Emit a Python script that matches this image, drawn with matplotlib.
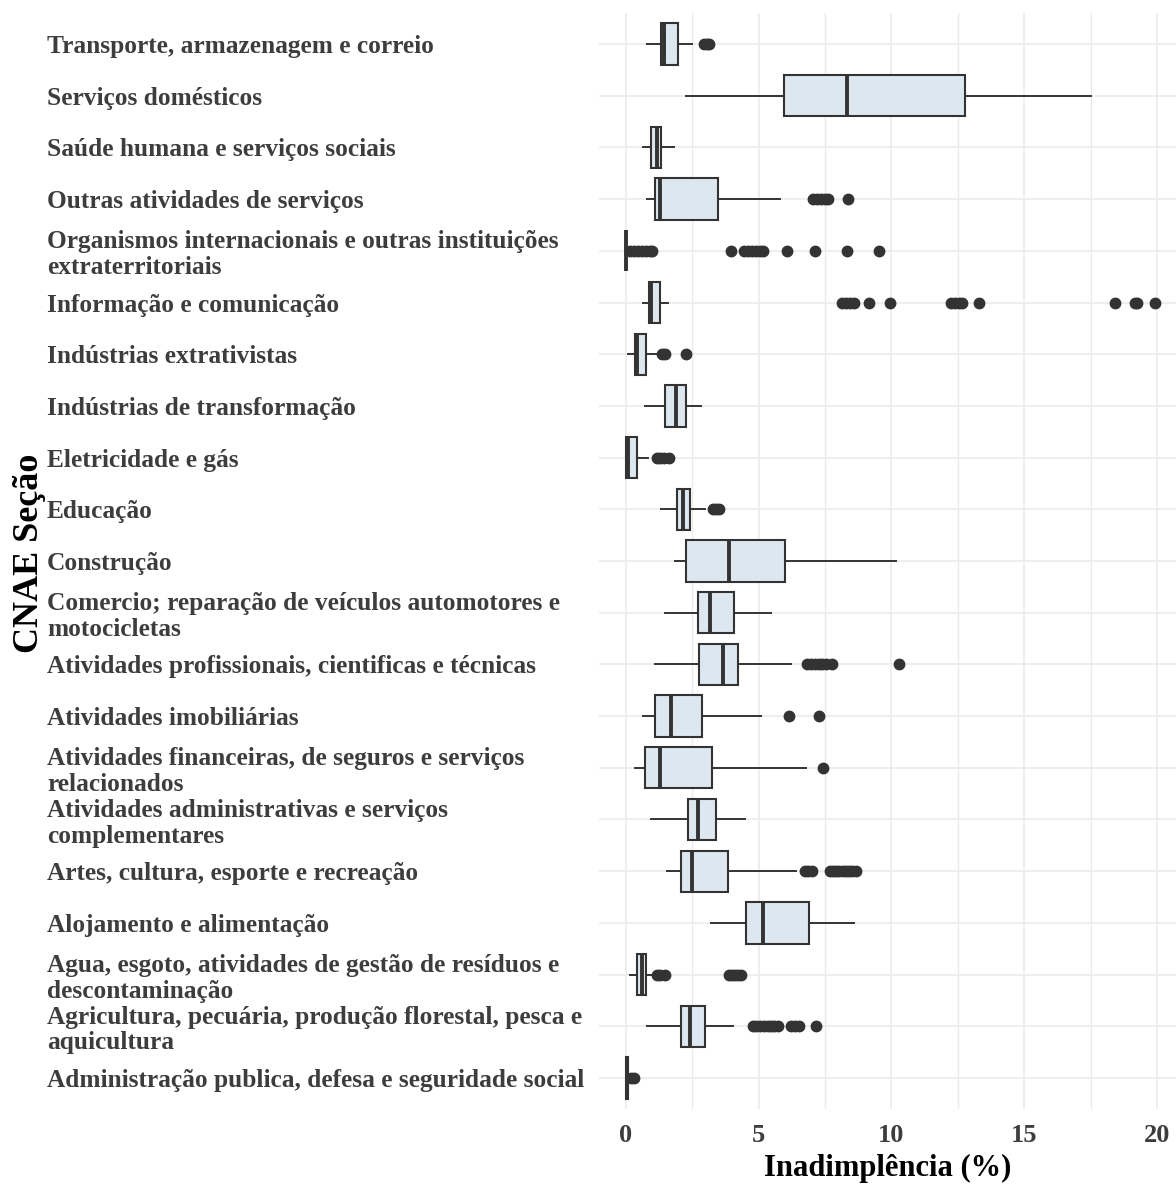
import matplotlib.pyplot as plt
from matplotlib.ticker import MultipleLocator

# CNAE sections, listed top to bottom as they appear on the y axis
secoes = [
    "Transporte, armazenagem e correio",
    "Serviços domésticos",
    "Saúde humana e serviços sociais",
    "Outras atividades de serviços",
    "Organismos internacionais e outras instituições\nextraterritoriais",
    "Informação e comunicação",
    "Indústrias extrativistas",
    "Indústrias de transformação",
    "Eletricidade e gás",
    "Educação",
    "Construção",
    "Comercio; reparação de veículos automotores e\nmotocicletas",
    "Atividades profissionais, cientificas e técnicas",
    "Atividades imobiliárias",
    "Atividades financeiras, de seguros e serviços\nrelacionados",
    "Atividades administrativas e serviços\ncomplementares",
    "Artes, cultura, esporte e recreação",
    "Alojamento e alimentação",
    "Agua, esgoto, atividades de gestão de resíduos e\ndescontaminação",
    "Agricultura, pecuária, produção florestal, pesca e\naquicultura",
    "Administração publica, defesa e seguridade social",
]

# box statistics of the default rate (%) per section
whis_lo = [0.80, 2.26, 0.65, 0.80, 0.00, 0.65, 0.10, 0.73, 0.00, 1.32, 1.86,
           1.48, 1.10, 0.64, 0.34, 0.94, 1.55, 3.21, 0.17, 0.80, 0.00]
q1 = [1.34, 5.95, 0.96, 1.11, 0.00, 0.88, 0.34, 1.49, 0.03, 1.95, 2.26,
      2.71, 2.78, 1.12, 0.73, 2.33, 2.09, 4.53, 0.42, 2.09, 0.00]
mediana = [1.45, 8.33, 1.17, 1.28, 0.00, 0.95, 0.42, 1.88, 0.08, 2.17, 3.89,
           3.19, 3.66, 1.69, 1.31, 2.73, 2.51, 5.16, 0.62, 2.44, 0.05]
q3 = [1.96, 12.76, 1.35, 3.47, 0.02, 1.28, 0.77, 2.27, 0.44, 2.41, 5.99,
      4.09, 4.24, 2.87, 3.25, 3.41, 3.86, 6.91, 0.77, 2.97, 0.10]
whis_hi = [2.49, 17.52, 1.83, 5.82, 0.05, 1.59, 1.19, 2.82, 0.84, 2.97, 10.18,
           5.48, 6.23, 5.09, 6.77, 4.48, 6.41, 8.61, 0.98, 4.03, 0.15]
outliers = [
    [2.95, 3.05, 3.15],
    [],
    [],
    [7.05, 7.2, 7.35, 7.5, 7.6, 8.35],
    [0.15, 0.3, 0.45, 0.6, 0.75, 0.9, 1.0, 3.95, 4.45, 4.6, 4.75, 4.9, 5.05,
     5.18, 6.08, 7.14, 8.31, 9.54],
    [8.14, 8.3, 8.45, 8.6, 9.15, 9.93, 12.25, 12.4, 12.55, 12.65, 13.3,
     18.42, 19.15, 19.25, 19.93],
    [1.38, 1.48, 2.26],
    [],
    [1.17, 1.3, 1.45, 1.64],
    [3.28, 3.4, 3.53],
    [],
    [],
    [6.84, 6.98, 7.12, 7.26, 7.4, 7.55, 7.76, 10.29],
    [6.13, 7.26],
    [7.43],
    [],
    [6.74, 6.87, 7.0, 7.69, 7.8, 7.92, 8.04, 8.16, 8.28, 8.4, 8.52, 8.66],
    [],
    [1.17, 1.3, 1.48, 3.89, 4.0, 4.12, 4.24, 4.36],
    [4.78, 4.92, 5.06, 5.2, 5.34, 5.48, 5.6, 5.73, 6.23, 6.38, 6.54, 7.18],
    [0.2, 0.3],
]

x_ticks = [0, 5, 10, 15, 20]

serif = ["Liberation Serif", "DejaVu Serif"]
W, H, DPI = 1176, 1185, 100

fig = plt.figure(figsize=(W / DPI, H / DPI), dpi=DPI)
fig.patch.set_facecolor("white")

# panel placed in pixel units
left_px, right_px, top_px, bottom_px = 599, 1182, 13, 1109
ax = fig.add_axes([left_px / W, 1 - bottom_px / H,
                   (right_px - left_px) / W, (bottom_px - top_px) / H])

stats = []
for i in range(len(secoes)):
    stats.append(dict(whislo=whis_lo[i], q1=q1[i], med=mediana[i],
                      q3=q3[i], whishi=whis_hi[i], fliers=outliers[i]))

edge = "#333333"
pos = list(range(1, len(secoes) + 1))
ax.bxp(stats, positions=pos, widths=0.8, orientation="horizontal",
       showcaps=False, patch_artist=True,
       boxprops=dict(facecolor="#dce7ef", edgecolor=edge, linewidth=1.5),
       whiskerprops=dict(color=edge, linewidth=1.4),
       medianprops=dict(color=edge, linewidth=2.8, solid_capstyle="butt"),
       flierprops=dict(marker="o", markerfacecolor=edge,
                       markeredgecolor=edge, markersize=7.5))

ax.set_xlim(-1.0, 20.93)
ax.set_ylim(len(secoes) + 0.6, 0.4)

ax.set_xticks(x_ticks)
ax.xaxis.set_minor_locator(MultipleLocator(2.5))
ax.set_yticks(pos)
ax.set_yticklabels(secoes)

ax.grid(True, which="major", color="#ebebeb", linewidth=1.2)
ax.grid(True, which="minor", axis="x", color="#ebebeb", linewidth=1.0)
ax.set_axisbelow(True)
for s in ax.spines.values():
    s.set_visible(False)

ax.tick_params(axis="both", which="both", length=0)
ax.tick_params(axis="y", pad=(left_px - 47) * 72 / DPI)
ax.tick_params(axis="x", pad=11)

for lab in ax.get_yticklabels():
    lab.set_fontfamily(serif)
    lab.set_fontweight("bold")
    lab.set_fontsize(18.3)
    lab.set_color("#3d3d3d")
    lab.set_horizontalalignment("left")
    lab.set_linespacing(1.15)
for lab in ax.get_xticklabels():
    lab.set_fontfamily(serif)
    lab.set_fontweight("bold")
    lab.set_fontsize(19)
    lab.set_color("#3d3d3d")

fig.text(888 / W, 1 - 1168 / H, "Inadimplência (%)", ha="center", va="center",
         fontsize=22, fontweight="bold", family=serif, color="black")
fig.text(30 / W, 1 - 553 / H, "CNAE Seção", ha="center", va="center",
         rotation=90, fontsize=26, fontweight="bold", family=serif,
         color="black")

fig.savefig("out.png", dpi=DPI, facecolor="white")
